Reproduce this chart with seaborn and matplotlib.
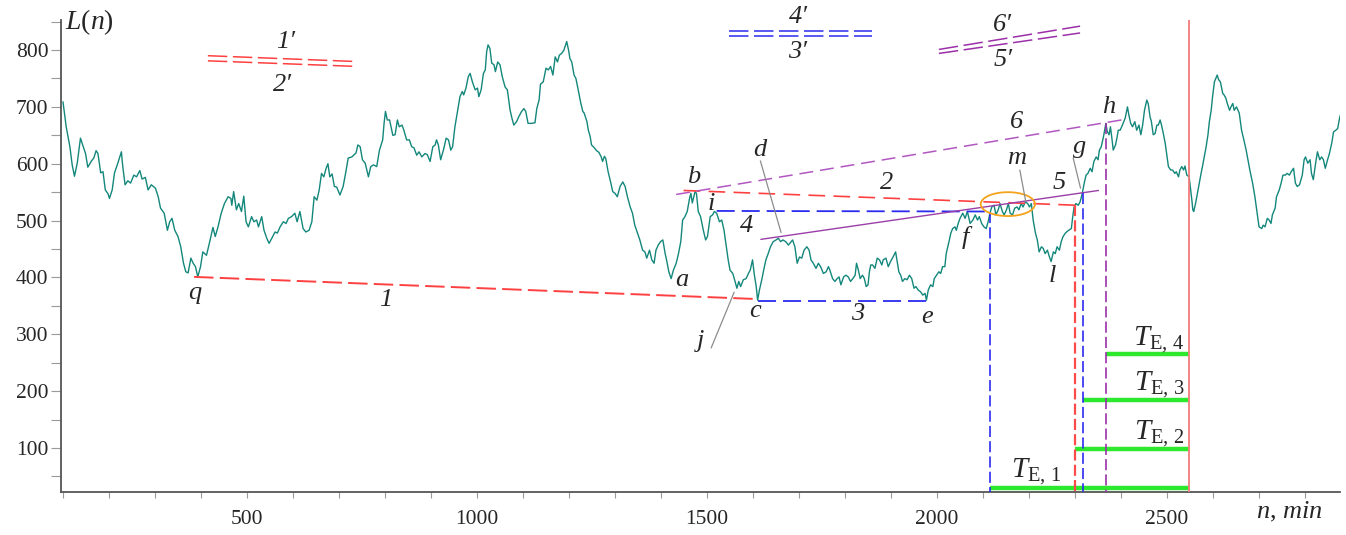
import matplotlib
matplotlib.use('Agg')
import matplotlib.pyplot as plt
from matplotlib.patches import Ellipse
import numpy as np
import pandas as pd
import seaborn as sns

# ---- series L(n) ----
seg1_n = [100, 107, 115, 120, 125, 131, 138, 143, 149, 154, 162, 167, 172, 176, 182, 187, 192, 198, 201, 207,
          212, 218, 227, 230, 235, 241, 247, 254, 260, 267, 272, 279, 285, 292, 301, 307, 312, 320, 327, 332,
          337, 343, 350, 356, 362, 367, 372, 378, 383, 388, 393, 399, 404, 412, 419, 426, 431, 437, 444, 451,
          459, 465, 467, 471, 477, 482, 488, 493]
seg1_L = [709, 665, 630, 598, 578, 601, 645, 633, 618, 594, 605, 610, 623, 618, 584, 586, 554, 547, 539, 554,
          584, 598, 621, 595, 563, 570, 566, 580, 577, 588, 573, 576, 554, 563, 557, 542, 522, 513, 483, 498,
          504, 483, 472, 454, 425, 410, 408, 434, 425, 419, 401, 419, 445, 439, 463, 488, 472, 489, 513, 530,
          542, 539, 527, 551, 519, 530, 516, 543]

seg2_n = [498, 503, 510, 515, 521, 525, 532, 537, 543, 548, 554, 561, 566, 572, 579, 585, 590, 597, 604, 609,
          615, 622, 628, 635, 641, 646, 652, 657, 662, 667, 672, 676, 680, 685, 690, 695, 702, 709, 715, 720,
          728, 733, 737, 741, 746, 751, 757, 764, 769, 775, 782, 788, 795, 798, 801, 805, 810, 817, 822, 827,
          831, 837, 841, 847, 853, 858, 863, 869, 874, 880, 887, 892]
seg2_L = [498, 489, 507, 498, 501, 489, 507, 483, 469, 460, 469, 480, 478, 489, 498, 495, 504, 507, 513, 498,
          516, 486, 480, 483, 498, 542, 536, 554, 583, 577, 592, 600, 577, 582, 560, 559, 545, 560, 586, 610,
          612, 616, 619, 633, 630, 607, 601, 577, 595, 598, 595, 624, 642, 671, 692, 677, 677, 650, 651, 677,
          665, 668, 659, 642, 642, 630, 628, 615, 621, 612, 618, 616]

seg3_n = [898, 904, 909, 912, 916, 921, 927, 933, 938, 943, 947, 952, 957, 963, 968, 971, 976, 981, 985, 990,
          996, 1001, 1004, 1009, 1014, 1018, 1021, 1024, 1028, 1032, 1037, 1040, 1045, 1050, 1055, 1061, 1066,
          1072, 1076, 1080, 1086, 1091, 1097, 1102, 1106, 1111, 1118, 1126, 1130, 1135, 1138, 1144, 1150, 1155,
          1160, 1165, 1170, 1175, 1179, 1184, 1189, 1195, 1199, 1202, 1206, 1211, 1215, 1220, 1225, 1230, 1233,
          1239, 1242, 1246, 1249, 1254, 1260, 1265, 1270, 1273, 1277, 1280, 1285]
seg3_L = [604, 630, 633, 642, 633, 607, 624, 645, 642, 624, 630, 665, 689, 718, 727, 721, 733, 753, 759, 744,
          730, 733, 718, 730, 759, 765, 797, 809, 803, 777, 774, 762, 779, 774, 753, 735, 730,
          694, 680, 668, 674, 683, 692, 697, 692, 671, 671, 672, 697, 712, 740, 744, 768, 765,
          771, 756, 788, 779, 791, 794, 800, 815, 800, 785, 779, 756, 750, 730, 709, 692, 689,
          674, 659, 648, 633, 629, 623, 620, 612, 604, 613, 609, 586]

seg4_n = [1291, 1295, 1300, 1305, 1311, 1317, 1322, 1327, 1333, 1338, 1343, 1348, 1354, 1360, 1365, 1369, 1375,
          1380, 1385, 1389, 1394, 1399, 1404, 1409, 1412, 1417, 1422, 1427, 1433, 1438, 1443, 1447, 1452, 1457,
          1462, 1465, 1468, 1474, 1477, 1481, 1486, 1492, 1497, 1501, 1507, 1512, 1516, 1521, 1527, 1532, 1537,
          1541, 1546, 1550, 1556, 1561, 1565, 1569, 1573, 1579, 1585, 1590, 1594, 1599, 1603, 1607, 1610, 1614,
          1619, 1624, 1628, 1633, 1638, 1644, 1650, 1655, 1660, 1665, 1671, 1677]
seg4_L = [566, 551, 548, 542, 560, 568, 560, 542, 524, 513, 492, 480, 466, 448, 445, 434, 448,
          431, 425, 448, 457, 463, 466, 442, 431, 410, 398, 413, 425, 442, 463, 501, 507, 516,
          539, 548, 531, 551, 548, 516, 507, 483, 466, 472, 507, 510, 516, 513, 498, 501, 483,
          460, 431, 413, 407, 393, 381, 393, 384, 396, 398, 407, 413, 431, 404, 384, 360, 378,
          396, 416, 431, 442, 454, 463, 466, 469, 463, 466, 463, 457]

seg5_n = [1680, 1686, 1691, 1696, 1701, 1706, 1711, 1717, 1722, 1726, 1731, 1737, 1742, 1747, 1753, 1759, 1764,
          1767, 1773, 1778, 1783, 1787, 1791, 1797, 1802, 1807, 1812, 1817, 1822, 1825, 1829, 1833, 1838, 1842,
          1846, 1850, 1853, 1856, 1860, 1865, 1870, 1875, 1880, 1883, 1889, 1894, 1899, 1905, 1910, 1914, 1917,
          1921, 1925, 1930, 1935, 1940, 1945, 1950, 1954, 1959, 1964, 1969, 1974, 1977, 1981, 1986, 1991, 1994,
          1999, 2004, 2008, 2012, 2017, 2020, 2026, 2030, 2034, 2039, 2042, 2046]
seg5_L = [460, 466, 454, 425, 436, 434, 448, 454, 448, 431, 425, 416, 425, 419, 407, 410, 419,
          413, 398, 393, 398, 401, 387, 401, 404, 401, 393, 398, 404, 425, 413, 398, 404, 398,
          384, 387, 410, 422, 422, 416, 434, 431, 422, 431, 434, 419, 428, 437, 445, 425, 410,
          404, 393, 398, 396, 404, 398, 381, 384, 378, 375, 369, 372, 360, 378, 387, 384, 398,
          404, 410, 407, 419, 419, 442, 463, 478, 486, 489, 483, 495]

seg6_n = [2050, 2056, 2061, 2066, 2072, 2078, 2083, 2088, 2092, 2097, 2102, 2107, 2112, 2115, 2119, 2124, 2128,
          2133, 2137, 2142, 2146, 2151, 2155, 2159, 2164, 2169, 2174, 2178, 2183, 2187, 2192, 2197, 2201, 2205,
          2209, 2214, 2218, 2222, 2227, 2231, 2235, 2240, 2244, 2248, 2253, 2257, 2261, 2266, 2270, 2274, 2279,
          2283, 2288, 2292, 2295, 2298, 2302, 2307, 2311, 2315, 2320, 2324, 2328, 2333, 2337, 2341, 2346, 2350,
          2353, 2357, 2362, 2365, 2367, 2370, 2374, 2377, 2381, 2383, 2388, 2391, 2394, 2398, 2403, 2409, 2414,
          2417, 2421, 2425, 2430, 2434, 2439]
seg6_L = [504, 513, 504, 516, 495, 501, 510, 501, 507, 495, 489, 486, 501, 513, 524, 527, 510,
          519, 530, 516, 510, 519, 530, 513, 510, 522, 524, 519, 530, 524, 533, 530, 524, 530,
          501, 478, 466, 445, 454, 451, 442, 448, 437, 428, 445, 442, 454, 448, 463, 472, 478,
          481, 484, 486, 507, 524, 530, 527, 533, 545, 566, 580, 583, 592, 586, 604, 612, 607,
          624, 630, 648, 662, 671, 657, 651, 665, 639, 624, 633, 645, 659, 659, 668, 680, 700,
          686, 671, 665, 674, 659, 668]

seg7_n = [2443, 2447, 2451, 2456, 2459, 2463, 2466, 2470, 2474, 2478, 2481, 2485, 2488, 2492, 2496, 2499, 2503,
          2508, 2512, 2517, 2520, 2525, 2528, 2532, 2536, 2539, 2543, 2548, 2551, 2554, 2556, 2558, 2562, 2566,
          2570, 2574, 2577, 2581, 2585, 2589, 2592, 2596, 2599, 2603, 2606, 2609, 2612, 2616, 2621, 2624, 2628,
          2631, 2636, 2639, 2643, 2646, 2651, 2657, 2662, 2667, 2672, 2676, 2680, 2686, 2691, 2696, 2700, 2706,
          2709, 2713, 2718, 2722, 2726, 2729, 2735, 2738, 2744, 2748, 2752, 2757, 2761, 2766, 2770, 2775, 2779,
          2783, 2788, 2794, 2798, 2801, 2806, 2811, 2814, 2818, 2823, 2827, 2832, 2836, 2840, 2844, 2849, 2853,
          2858, 2862, 2867, 2871, 2875, 2877]
seg7_L = [651, 668, 694, 712, 706, 683, 674, 651, 653, 668, 668, 677, 668, 653, 636, 618, 595,
          589, 589, 583, 586, 577, 589, 595, 589, 596, 580, 577, 557, 536, 519, 516, 530, 548,
          566, 583, 595, 612, 630, 651, 674, 694, 718, 744, 750, 756, 748, 744, 724, 721, 715,
          706, 694, 700, 706, 694, 700, 689, 659, 642, 624, 607, 589, 566, 542, 513, 489, 486,
          492, 489, 504, 501, 495, 510, 522, 542, 554, 566, 580, 580, 583, 580, 586, 592, 566,
          560, 563, 580, 607, 612, 601, 607, 583, 572, 601, 621, 607, 612, 607, 592, 607, 618,
          636, 656, 659, 662, 680, 686]

# ---- trend lines (start / end points) ----
line1_n, line1_L = [385, 1610], [401, 362]      # q -> c
line2_n, line2_L = [1449, 2303], [553, 527]     # b -> g
line3_n, line3_L = [1611, 1981], [359, 359]     # c -> e
line4_n, line4_L = [1521, 2115], [517, 516]     # i -> f
line5_n, line5_L = [1617, 2351], [467, 553]     # d -> g
line6_n, line6_L = [1433, 2401], [546, 677]     # b -> h

# copies of the lines in the top area
line1p_n, line1p_L = [415, 730], [790, 780]
line2p_n, line2p_L = [415, 730], [781, 771.4]
line4p_n, line4p_L = [1548, 1859], [834, 834]
line3p_n, line3p_L = [1548, 1859], [825, 825]
line6p_n, line6p_L = [2004, 2311], [801, 842]
line5p_n, line5p_L = [2004, 2311], [794, 830]

# break-out moments and their levels
brk_n = [2115, 2300, 2318, 2367]
brk_L = [516, 527, 548, 672]
brk_color = ['#2b2bf0', '#ff4a4a', '#2b2bf0', '#9b30a8']
now_n = 2548                     # current moment (solid red)
te_level = [30, 98, 184, 265]    # heights of the green T_E bars

y_lo, y_hi = 22.7, 852.8
x_lo, x_hi = 95.7, 2876

# ---- style ----
sns.set_theme(style='ticks')
plt.rcParams['font.family'] = ['Liberation Serif', 'DejaVu Serif']
plt.rcParams['mathtext.fontset'] = 'custom'
plt.rcParams['mathtext.rm'] = 'Liberation Serif'
plt.rcParams['mathtext.it'] = 'Liberation Serif:italic'
plt.rcParams['lines.scale_dashes'] = False

fig = plt.figure(figsize=(13.46, 5.35), dpi=100)
ax = fig.add_axes([61 / 1346, 43 / 535, (1340 - 61) / 1346, (492 - 20) / 535])

df = pd.DataFrame({
    'n': seg1_n + seg2_n + seg3_n + seg4_n + seg5_n + seg6_n + seg7_n,
    'L': seg1_L + seg2_L + seg3_L + seg4_L + seg5_L + seg6_L + seg7_L,
})
sns.lineplot(data=df, x='n', y='L', ax=ax, color='#13877b', lw=1.0, estimator=None, zorder=3)

red = '#ff4040'
blue = '#2b2bf0'
purple = '#b257c2'

ax.plot(line1_n, line1_L, color=red, lw=1.4, dashes=(14, 4.5), zorder=4)
ax.plot(line2_n, line2_L, color=red, lw=1.2, dashes=(12, 6), zorder=4)
ax.plot(line3_n, line3_L, color=blue, lw=1.3, dashes=(13, 5), zorder=4)
ax.plot(line4_n, line4_L, color=blue, lw=1.3, dashes=(13, 5), zorder=4)
ax.plot(line5_n, line5_L, color='#9b3fa8', lw=1.0, zorder=4)
ax.plot(line6_n, line6_L, color=purple, lw=1.1, dashes=(10, 5), zorder=4)

ax.plot(line1p_n, line1p_L, color=red, lw=1.1, dashes=(14, 4), zorder=4)
ax.plot(line2p_n, line2p_L, color=red, lw=1.1, dashes=(14, 4), zorder=4)
ax.plot(line4p_n, line4p_L, color=blue, lw=1.1, dashes=(14, 4), zorder=4)
ax.plot(line3p_n, line3p_L, color=blue, lw=1.1, dashes=(14, 4), zorder=4)
ax.plot(line6p_n, line6p_L, color='#9b30a8', lw=1.1, dashes=(14, 4), zorder=4)
ax.plot(line5p_n, line5p_L, color='#9b30a8', lw=1.1, dashes=(14, 4), zorder=4)

# green T_E bars
for x0, lev in zip(brk_n, te_level):
    ax.plot([x0, now_n], [lev, lev], color='#2ee82e', lw=3.2, solid_capstyle='butt', zorder=2)

# vertical drops from the break-out points
for x0, top, c in zip(brk_n, brk_L, brk_color):
    lw = 1.6 if c == '#ff4a4a' else 1.2
    ax.plot([x0, x0], [top, y_lo], color=c, lw=lw, dashes=(8, 3), zorder=4)
ax.plot([now_n, now_n], [y_lo, y_hi], color='#f27b7b', lw=1.3, zorder=4)

ax.add_patch(Ellipse((2154, 529), width=118, height=42, fill=False, ec='#f5a31a', lw=1.3, zorder=5))

# leader lines
gray = '#8c8c8c'
ax.plot([1616, 1661], [605, 479], color=gray, lw=0.9, zorder=5)   # d
ax.plot([1509, 1559], [276, 374], color=gray, lw=0.9, zorder=5)   # j
ax.plot([2180, 2193], [589, 533], color=gray, lw=0.9, zorder=5)   # m
ax.plot([2296, 2312], [610, 557], color=gray, lw=0.9, zorder=5)   # g

# labels
lab = dict(fontsize=19, fontstyle='italic', ha='center', va='center', zorder=6)
for s, x, y in [('q', 387, 372), ('1', 802, 360), ('a', 1445, 395), ('b', 1470, 577), ('i', 1510, 529),
                ('4', 1586, 491), ('d', 1614, 624), ('c', 1604, 341), ('j', 1486, 289), ('3', 1827, 336),
                ('e', 1978, 330), ('2', 1891, 566), ('f', 2062, 471), ('6', 2172, 673), ('m', 2173, 610),
                ('5', 2266, 566), ('g', 2310, 629), ('h', 2373, 700), ('l', 2250, 403),
                ('1\u2032', 583, 814), ('2\u2032', 578, 738), ('4\u2032', 1698, 858), ('3\u2032', 1696, 796),
                ('6\u2032', 2143, 844), ('5\u2032', 2143, 782)]:
    ax.text(x, y, s, **lab)

ax.text(104, 849, r'$L(n)$', fontsize=20, ha='left', va='center')
ax.text(2767, -12, r'$n$, $min$', fontsize=19, ha='center', va='center', clip_on=False)

te_pos = [(2215, 58, 'center'), (2538, 125, 'right'), (2538, 211, 'right'), (2538, 290, 'right')]
for k, (x, y, ha) in enumerate(te_pos, start=1):
    ax.text(x, y, r'$T_{\mathrm{E,\,%d}}$' % k, fontsize=21, ha=ha, va='center', zorder=6)

# axes
ax.set_xlim(x_lo, x_hi)
ax.set_ylim(y_lo, y_hi)
ax.set_xlabel('')
ax.set_ylabel('')
ax.set_xticks([500, 1000, 1500, 2000, 2500])
ax.set_xticks(np.arange(100, 2801, 100), minor=True)
ax.set_yticks([100, 200, 300, 400, 500, 600, 700, 800])
ax.set_yticks(np.arange(50, 851, 50), minor=True)
ax.tick_params(axis='x', which='both', length=4, width=0.8, color='#9a9a9a', pad=9, labelsize=15.5)
ax.tick_params(axis='y', which='both', length=7, width=0.8, color='#9a9a9a', pad=2, labelsize=15.5)
for side in ['top', 'right']:
    ax.spines[side].set_visible(False)
for side in ['left', 'bottom']:
    ax.spines[side].set_color('#555555')
    ax.spines[side].set_linewidth(1.3)

fig.savefig('out.png', dpi=100)
